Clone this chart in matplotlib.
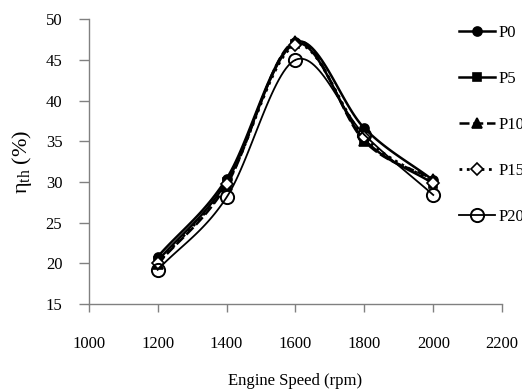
import numpy as np
import matplotlib
matplotlib.use("Agg")
import matplotlib.pyplot as plt
from matplotlib.lines import Line2D

# 数据
speed = [1200, 1400, 1600, 1800, 2000]
p0 = [20.8, 30.4, 47.2, 36.6, 30.2]
p5 = [20.3, 30.0, 47.0, 35.2, 29.8]
p10 = [19.9, 29.6, 47.3, 35.0, 30.3]
p15 = [20.0, 29.8, 46.8, 35.5, 29.9]
p20 = [19.2, 28.1, 45.0, 35.8, 28.4]
labels = ["P0", "P5", "P10", "P15", "P20"]

plt.rcParams['font.family'] = ['Liberation Serif', 'DejaVu Serif']
plt.rcParams['mathtext.fontset'] = 'custom'
plt.rcParams['mathtext.rm'] = 'Liberation Serif'
plt.rcParams['mathtext.default'] = 'regular'


def smooth(x, y, n=30):
    # Catmull-Rom 平滑，类似 Excel 的平滑线
    x = np.asarray(x, float)
    y = np.asarray(y, float)
    px = np.concatenate([[2 * x[0] - x[1]], x, [2 * x[-1] - x[-2]]])
    py = np.concatenate([[2 * y[0] - y[1]], y, [2 * y[-1] - y[-2]]])
    xs, ys = [], []
    t = np.linspace(0, 1, n)
    for i in range(1, len(px) - 2):
        for arr, out in ((px, xs), (py, ys)):
            p_0, p_1, p_2, p_3 = arr[i - 1], arr[i], arr[i + 1], arr[i + 2]
            out.extend(0.5 * ((2 * p_1) + (-p_0 + p_2) * t
                              + (2 * p_0 - 5 * p_1 + 4 * p_2 - p_3) * t ** 2
                              + (-p_0 + 3 * p_1 - 3 * p_2 + p_3) * t ** 3))
    return np.array(xs), np.array(ys)


fig = plt.figure(figsize=(5.22, 3.91), dpi=100)
ax = fig.add_axes([0.170, 0.2225, 0.792, 0.7285])

styles = [
    dict(ls='-', lw=1.8, marker='o', ms=6.5, mfc='black'),
    dict(ls='-', lw=1.8, marker='s', ms=6, mfc='black'),
    dict(ls=(0, (4, 1.5)), lw=1.8, marker='^', ms=7, mfc='black'),
    dict(ls=':', lw=2.0, marker='D', ms=6.5, mfc='white'),
    dict(ls='-', lw=1.3, marker='o', ms=9.5, mfc='none', mew=1.4),
]
series = [p0, p5, p10, p15, p20]

handles = []
for vals, st, lab in zip(series, styles, labels):
    sx, sy = smooth(speed, vals)
    ax.plot(sx, sy, color='black', ls=st['ls'], lw=st['lw'])
    ax.plot(speed, vals, ls='none', marker=st['marker'], ms=st['ms'],
            mfc=st['mfc'], mec='black', mew=st.get('mew', 1.2))
    handles.append(Line2D([], [], color='black', ls=st['ls'], lw=st['lw'],
                          marker=st['marker'], ms=st['ms'], mfc=st['mfc'],
                          mec='black', mew=st.get('mew', 1.2)))

ax.set_xlim(1000, 2200)
ax.set_ylim(15, 50)
ax.set_xticks(range(1000, 2201, 200))
ax.set_yticks(range(15, 51, 5))

for s in ['top', 'right']:
    ax.spines[s].set_visible(False)
for s in ['left', 'bottom']:
    ax.spines[s].set_color('#808080')
    ax.spines[s].set_linewidth(1.0)

ax.tick_params(axis='x', direction='out', length=6, width=1, color='#808080',
               pad=17, labelsize=12)
ax.tick_params(axis='y', direction='out', length=7, width=1, color='#808080',
               pad=12, labelsize=12)

ax.set_xlabel('Engine Speed (rpm)', fontsize=12, labelpad=15)
ax.set_ylabel(r'$η_{th}$ (%)', fontsize=16, labelpad=8)

fig.legend(handles=handles, labels=labels, loc='upper left',
           bbox_to_anchor=(0.850, 0.975), frameon=False, fontsize=12,
           handlelength=2.2, handletextpad=0.2, labelspacing=1.8)

fig.savefig('out.png', dpi=100)
